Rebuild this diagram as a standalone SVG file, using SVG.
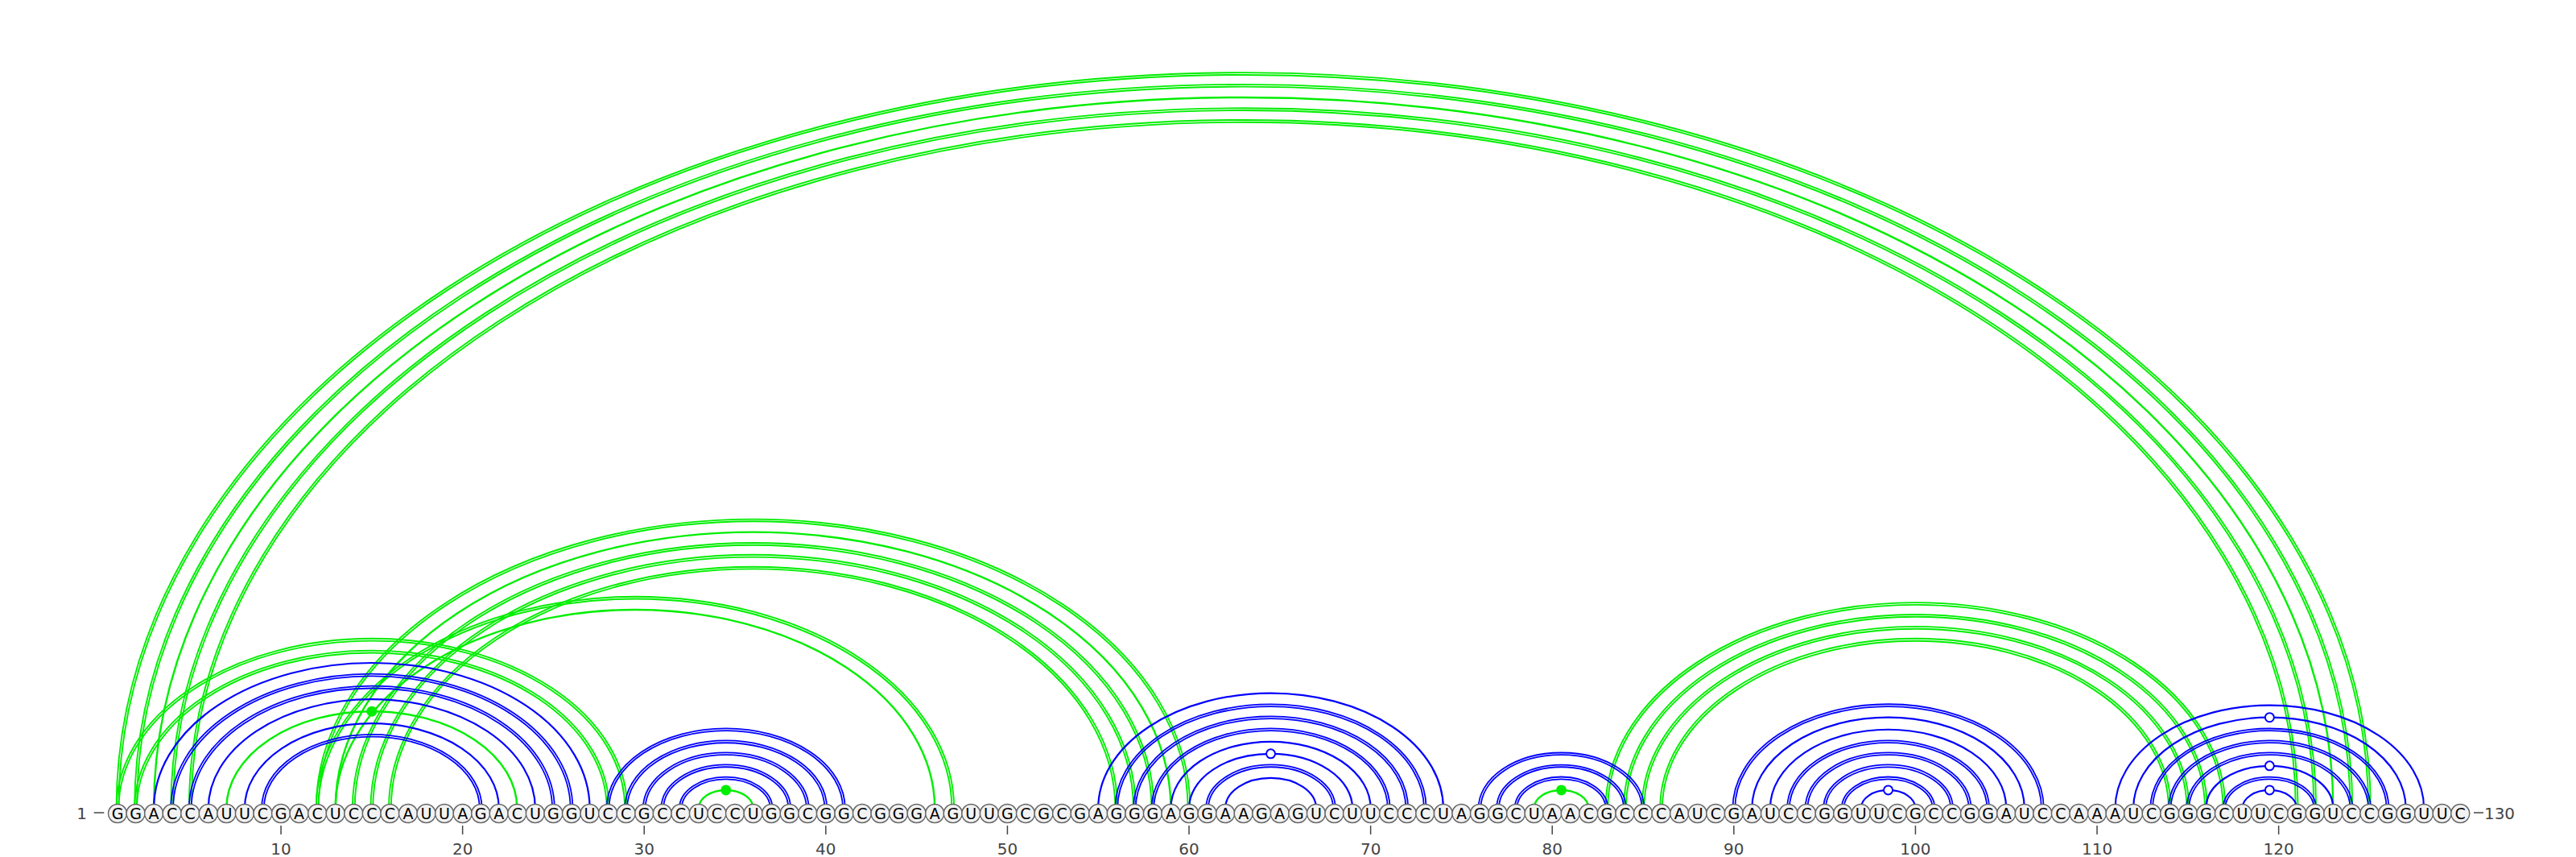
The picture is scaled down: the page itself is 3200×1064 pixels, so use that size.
<svg xmlns="http://www.w3.org/2000/svg" width="3200" height="1064" viewBox="0 0 3200 1064">
<style>
.b{fill:none;stroke:#0000ff;stroke-width:2.2}
.bd{fill:none;stroke:#0000ff;stroke-width:1.8}
.g{fill:none;stroke:#00ee00;stroke-width:2.4}
.gd{fill:none;stroke:#00ee00;stroke-width:1.9}
.oc{fill:#ffffff;stroke:#0000ff;stroke-width:2}
.fd{fill:#00ee00;stroke:none}
.nt circle{fill:#f2f2f2;stroke:#666666;stroke-width:1.5}
.nt text{font-family:"DejaVu Sans",sans-serif;font-size:19px;fill:#000;text-anchor:middle}
.lbl{font-family:"DejaVu Sans",sans-serif;font-size:20px;fill:#444;text-anchor:middle}
.tk{stroke:#444;stroke-width:1.5}
</style>
<rect width="3200" height="1064" fill="#ffffff"/>
<g id="connectors">
<path class="gd" d="M144.6 1003.5A1400.12 913.37 0 0 1 2944.84 1003.5M147.4 1003.5A1397.32 910.57 0 0 1 2942.04 1003.5"/>
<path class="gd" d="M167.16 1003.5A1377.56 898.66 0 0 1 2922.28 1003.5M169.96 1003.5A1374.76 895.86 0 0 1 2919.48 1003.5"/>
<path class="g" d="M191.12 1003.5A1353.6 882.55 0 0 1 2898.32 1003.5"/>
<path class="gd" d="M212.28 1003.5A1332.44 869.24 0 0 1 2877.16 1003.5M215.08 1003.5A1329.64 866.44 0 0 1 2874.36 1003.5"/>
<path class="gd" d="M234.84 1003.5A1309.88 854.53 0 0 1 2854.6 1003.5M237.64 1003.5A1307.08 851.73 0 0 1 2851.8 1003.5"/>
<path class="gd" d="M144.6 1003.5A317.24 210.7 0 0 1 779.08 1003.5M147.4 1003.5A314.44 207.9 0 0 1 776.28 1003.5"/>
<path class="gd" d="M167.16 1003.5A294.68 195.9 0 0 1 756.52 1003.5M169.96 1003.5A291.88 193.1 0 0 1 753.72 1003.5"/>
<path class="gd" d="M392.76 1003.5A542.84 359.1 0 0 1 1478.44 1003.5M395.56 1003.5A540.04 356.3 0 0 1 1475.64 1003.5"/>
<path class="g" d="M416.72 1003.5A518.88 342.9 0 0 1 1454.48 1003.5"/>
<path class="gd" d="M437.88 1003.5A497.72 329.5 0 0 1 1433.32 1003.5M440.68 1003.5A494.92 326.7 0 0 1 1430.52 1003.5"/>
<path class="gd" d="M460.44 1003.5A475.16 314.7 0 0 1 1410.76 1003.5M463.24 1003.5A472.36 311.9 0 0 1 1407.96 1003.5"/>
<path class="gd" d="M483 1003.5A452.6 299.9 0 0 1 1388.2 1003.5M485.8 1003.5A449.8 297.1 0 0 1 1385.4 1003.5"/>
<path class="gd" d="M392.76 1003.5A396.2 262.8 0 0 1 1185.16 1003.5M395.56 1003.5A393.4 260 0 0 1 1182.36 1003.5"/>
<path class="g" d="M416.72 1003.5A372.24 246.5 0 0 1 1161.2 1003.5"/>
<path class="gd" d="M1994.52 1003.5A384.92 255.4 0 0 1 2764.36 1003.5M1997.32 1003.5A382.12 252.6 0 0 1 2761.56 1003.5"/>
<path class="gd" d="M2017.08 1003.5A362.36 240.5 0 0 1 2741.8 1003.5M2019.88 1003.5A359.56 237.7 0 0 1 2739 1003.5"/>
<path class="gd" d="M2039.64 1003.5A339.8 225.6 0 0 1 2719.24 1003.5M2042.44 1003.5A337 222.8 0 0 1 2716.44 1003.5"/>
<path class="gd" d="M2062.2 1003.5A317.24 210.7 0 0 1 2696.68 1003.5M2065 1003.5A314.44 207.9 0 0 1 2693.88 1003.5"/>
<path class="b" d="M191.12 1003.5A270.72 180.48 0 0 1 732.56 1003.5"/>
<path class="bd" d="M212.28 1003.5A249.56 166.84 0 0 1 711.4 1003.5M215.08 1003.5A246.76 164.04 0 0 1 708.6 1003.5"/>
<path class="bd" d="M234.84 1003.5A227 151.8 0 0 1 688.84 1003.5M237.64 1003.5A224.2 149 0 0 1 686.04 1003.5"/>
<path class="b" d="M258.8 1003.5A203.04 135.36 0 0 1 664.88 1003.5"/>
<path class="g" d="M281.36 1003.5A180.48 120.32 0 0 1 642.32 1003.5"/>
<circle class="fd" cx="461.84" cy="883.18" r="6.5"/>
<path class="b" d="M303.92 1003.5A157.92 105.28 0 0 1 619.76 1003.5"/>
<path class="bd" d="M325.08 1003.5A136.76 91.64 0 0 1 598.6 1003.5M327.88 1003.5A133.96 88.84 0 0 1 595.8 1003.5"/>
<path class="bd" d="M753.72 1003.5A148.04 99.16 0 0 1 1049.8 1003.5M756.52 1003.5A145.24 96.36 0 0 1 1047 1003.5"/>
<path class="bd" d="M776.28 1003.5A125.48 84.12 0 0 1 1027.24 1003.5M779.08 1003.5A122.68 81.32 0 0 1 1024.44 1003.5"/>
<path class="bd" d="M798.84 1003.5A102.92 69.08 0 0 1 1004.68 1003.5M801.64 1003.5A100.12 66.28 0 0 1 1001.88 1003.5"/>
<path class="bd" d="M821.4 1003.5A80.36 54.04 0 0 1 982.12 1003.5M824.2 1003.5A77.56 51.24 0 0 1 979.32 1003.5"/>
<path class="bd" d="M843.96 1003.5A57.8 39 0 0 1 959.56 1003.5M846.76 1003.5A55 36.2 0 0 1 956.76 1003.5"/>
<path class="g" d="M867.92 1003.5A33.84 22.56 0 0 1 935.6 1003.5"/>
<circle class="fd" cx="901.76" cy="980.94" r="6.5"/>
<path class="b" d="M1364.24 1003.5A214.32 142.88 0 0 1 1792.88 1003.5"/>
<path class="bd" d="M1385.4 1003.5A193.16 129.24 0 0 1 1771.72 1003.5M1388.2 1003.5A190.36 126.44 0 0 1 1768.92 1003.5"/>
<path class="bd" d="M1407.96 1003.5A170.6 114.2 0 0 1 1749.16 1003.5M1410.76 1003.5A167.8 111.4 0 0 1 1746.36 1003.5"/>
<path class="bd" d="M1430.52 1003.5A148.04 99.16 0 0 1 1726.6 1003.5M1433.32 1003.5A145.24 96.36 0 0 1 1723.8 1003.5"/>
<path class="b" d="M1454.48 1003.5A124.08 82.72 0 0 1 1702.64 1003.5"/>
<path class="b" d="M1477.04 1003.5A101.52 67.68 0 0 1 1680.08 1003.5"/>
<circle class="oc" cx="1578.56" cy="935.82" r="5.5"/>
<path class="bd" d="M1498.2 1003.5A80.36 54.04 0 0 1 1658.92 1003.5M1501 1003.5A77.56 51.24 0 0 1 1656.12 1003.5"/>
<path class="b" d="M1522.16 1003.5A56.4 37.6 0 0 1 1634.96 1003.5"/>
<path class="bd" d="M1836.6 1003.5A102.92 69.08 0 0 1 2042.44 1003.5M1839.4 1003.5A100.12 66.28 0 0 1 2039.64 1003.5"/>
<path class="bd" d="M1859.16 1003.5A80.36 54.04 0 0 1 2019.88 1003.5M1861.96 1003.5A77.56 51.24 0 0 1 2017.08 1003.5"/>
<path class="bd" d="M1881.72 1003.5A57.8 39 0 0 1 1997.32 1003.5M1884.52 1003.5A55 36.2 0 0 1 1994.52 1003.5"/>
<path class="g" d="M1905.68 1003.5A33.84 22.56 0 0 1 1973.36 1003.5"/>
<circle class="fd" cx="1939.52" cy="980.94" r="6.5"/>
<path class="bd" d="M2152.44 1003.5A193.16 129.24 0 0 1 2538.76 1003.5M2155.24 1003.5A190.36 126.44 0 0 1 2535.96 1003.5"/>
<path class="b" d="M2176.4 1003.5A169.2 112.8 0 0 1 2514.8 1003.5"/>
<path class="b" d="M2198.96 1003.5A146.64 97.76 0 0 1 2492.24 1003.5"/>
<path class="bd" d="M2220.12 1003.5A125.48 84.12 0 0 1 2471.08 1003.5M2222.92 1003.5A122.68 81.32 0 0 1 2468.28 1003.5"/>
<path class="bd" d="M2242.68 1003.5A102.92 69.08 0 0 1 2448.52 1003.5M2245.48 1003.5A100.12 66.28 0 0 1 2445.72 1003.5"/>
<path class="bd" d="M2265.24 1003.5A80.36 54.04 0 0 1 2425.96 1003.5M2268.04 1003.5A77.56 51.24 0 0 1 2423.16 1003.5"/>
<path class="bd" d="M2287.8 1003.5A57.8 39 0 0 1 2403.4 1003.5M2290.6 1003.5A55 36.2 0 0 1 2400.6 1003.5"/>
<path class="b" d="M2311.76 1003.5A33.84 22.56 0 0 1 2379.44 1003.5"/>
<circle class="oc" cx="2345.6" cy="980.94" r="5.5"/>
<path class="b" d="M2627.6 1003.5A191.76 127.84 0 0 1 3011.12 1003.5"/>
<path class="b" d="M2650.16 1003.5A169.2 112.8 0 0 1 2988.56 1003.5"/>
<circle class="oc" cx="2819.36" cy="890.7" r="5.5"/>
<path class="bd" d="M2671.32 1003.5A148.04 99.16 0 0 1 2967.4 1003.5M2674.12 1003.5A145.24 96.36 0 0 1 2964.6 1003.5"/>
<path class="bd" d="M2693.88 1003.5A125.48 84.12 0 0 1 2944.84 1003.5M2696.68 1003.5A122.68 81.32 0 0 1 2942.04 1003.5"/>
<path class="bd" d="M2716.44 1003.5A102.92 69.08 0 0 1 2922.28 1003.5M2719.24 1003.5A100.12 66.28 0 0 1 2919.48 1003.5"/>
<path class="b" d="M2740.4 1003.5A78.96 52.64 0 0 1 2898.32 1003.5"/>
<circle class="oc" cx="2819.36" cy="950.86" r="5.5"/>
<path class="bd" d="M2761.56 1003.5A57.8 39 0 0 1 2877.16 1003.5M2764.36 1003.5A55 36.2 0 0 1 2874.36 1003.5"/>
<path class="b" d="M2785.52 1003.5A33.84 22.56 0 0 1 2853.2 1003.5"/>
<circle class="oc" cx="2819.36" cy="980.94" r="5.5"/>
</g>
<g id="nucleotides" class="nt">
<g id="n1"><circle cx="146" cy="1010" r="11.5"/><text x="146" y="1017">G</text></g>
<g id="n2"><circle cx="168.56" cy="1010" r="11.5"/><text x="168.56" y="1017">G</text></g>
<g id="n3"><circle cx="191.12" cy="1010" r="11.5"/><text x="191.12" y="1017">A</text></g>
<g id="n4"><circle cx="213.68" cy="1010" r="11.5"/><text x="213.68" y="1017">C</text></g>
<g id="n5"><circle cx="236.24" cy="1010" r="11.5"/><text x="236.24" y="1017">C</text></g>
<g id="n6"><circle cx="258.8" cy="1010" r="11.5"/><text x="258.8" y="1017">A</text></g>
<g id="n7"><circle cx="281.36" cy="1010" r="11.5"/><text x="281.36" y="1017">U</text></g>
<g id="n8"><circle cx="303.92" cy="1010" r="11.5"/><text x="303.92" y="1017">U</text></g>
<g id="n9"><circle cx="326.48" cy="1010" r="11.5"/><text x="326.48" y="1017">C</text></g>
<g id="n10"><circle cx="349.04" cy="1010" r="11.5"/><text x="349.04" y="1017">G</text></g>
<g id="n11"><circle cx="371.6" cy="1010" r="11.5"/><text x="371.6" y="1017">A</text></g>
<g id="n12"><circle cx="394.16" cy="1010" r="11.5"/><text x="394.16" y="1017">C</text></g>
<g id="n13"><circle cx="416.72" cy="1010" r="11.5"/><text x="416.72" y="1017">U</text></g>
<g id="n14"><circle cx="439.28" cy="1010" r="11.5"/><text x="439.28" y="1017">C</text></g>
<g id="n15"><circle cx="461.84" cy="1010" r="11.5"/><text x="461.84" y="1017">C</text></g>
<g id="n16"><circle cx="484.4" cy="1010" r="11.5"/><text x="484.4" y="1017">C</text></g>
<g id="n17"><circle cx="506.96" cy="1010" r="11.5"/><text x="506.96" y="1017">A</text></g>
<g id="n18"><circle cx="529.52" cy="1010" r="11.5"/><text x="529.52" y="1017">U</text></g>
<g id="n19"><circle cx="552.08" cy="1010" r="11.5"/><text x="552.08" y="1017">U</text></g>
<g id="n20"><circle cx="574.64" cy="1010" r="11.5"/><text x="574.64" y="1017">A</text></g>
<g id="n21"><circle cx="597.2" cy="1010" r="11.5"/><text x="597.2" y="1017">G</text></g>
<g id="n22"><circle cx="619.76" cy="1010" r="11.5"/><text x="619.76" y="1017">A</text></g>
<g id="n23"><circle cx="642.32" cy="1010" r="11.5"/><text x="642.32" y="1017">C</text></g>
<g id="n24"><circle cx="664.88" cy="1010" r="11.5"/><text x="664.88" y="1017">U</text></g>
<g id="n25"><circle cx="687.44" cy="1010" r="11.5"/><text x="687.44" y="1017">G</text></g>
<g id="n26"><circle cx="710" cy="1010" r="11.5"/><text x="710" y="1017">G</text></g>
<g id="n27"><circle cx="732.56" cy="1010" r="11.5"/><text x="732.56" y="1017">U</text></g>
<g id="n28"><circle cx="755.12" cy="1010" r="11.5"/><text x="755.12" y="1017">C</text></g>
<g id="n29"><circle cx="777.68" cy="1010" r="11.5"/><text x="777.68" y="1017">C</text></g>
<g id="n30"><circle cx="800.24" cy="1010" r="11.5"/><text x="800.24" y="1017">G</text></g>
<g id="n31"><circle cx="822.8" cy="1010" r="11.5"/><text x="822.8" y="1017">C</text></g>
<g id="n32"><circle cx="845.36" cy="1010" r="11.5"/><text x="845.36" y="1017">C</text></g>
<g id="n33"><circle cx="867.92" cy="1010" r="11.5"/><text x="867.92" y="1017">U</text></g>
<g id="n34"><circle cx="890.48" cy="1010" r="11.5"/><text x="890.48" y="1017">C</text></g>
<g id="n35"><circle cx="913.04" cy="1010" r="11.5"/><text x="913.04" y="1017">C</text></g>
<g id="n36"><circle cx="935.6" cy="1010" r="11.5"/><text x="935.6" y="1017">U</text></g>
<g id="n37"><circle cx="958.16" cy="1010" r="11.5"/><text x="958.16" y="1017">G</text></g>
<g id="n38"><circle cx="980.72" cy="1010" r="11.5"/><text x="980.72" y="1017">G</text></g>
<g id="n39"><circle cx="1003.28" cy="1010" r="11.5"/><text x="1003.28" y="1017">C</text></g>
<g id="n40"><circle cx="1025.84" cy="1010" r="11.5"/><text x="1025.84" y="1017">G</text></g>
<g id="n41"><circle cx="1048.4" cy="1010" r="11.5"/><text x="1048.4" y="1017">G</text></g>
<g id="n42"><circle cx="1070.96" cy="1010" r="11.5"/><text x="1070.96" y="1017">C</text></g>
<g id="n43"><circle cx="1093.52" cy="1010" r="11.5"/><text x="1093.52" y="1017">G</text></g>
<g id="n44"><circle cx="1116.08" cy="1010" r="11.5"/><text x="1116.08" y="1017">G</text></g>
<g id="n45"><circle cx="1138.64" cy="1010" r="11.5"/><text x="1138.64" y="1017">G</text></g>
<g id="n46"><circle cx="1161.2" cy="1010" r="11.5"/><text x="1161.2" y="1017">A</text></g>
<g id="n47"><circle cx="1183.76" cy="1010" r="11.5"/><text x="1183.76" y="1017">G</text></g>
<g id="n48"><circle cx="1206.32" cy="1010" r="11.5"/><text x="1206.32" y="1017">U</text></g>
<g id="n49"><circle cx="1228.88" cy="1010" r="11.5"/><text x="1228.88" y="1017">U</text></g>
<g id="n50"><circle cx="1251.44" cy="1010" r="11.5"/><text x="1251.44" y="1017">G</text></g>
<g id="n51"><circle cx="1274" cy="1010" r="11.5"/><text x="1274" y="1017">C</text></g>
<g id="n52"><circle cx="1296.56" cy="1010" r="11.5"/><text x="1296.56" y="1017">G</text></g>
<g id="n53"><circle cx="1319.12" cy="1010" r="11.5"/><text x="1319.12" y="1017">C</text></g>
<g id="n54"><circle cx="1341.68" cy="1010" r="11.5"/><text x="1341.68" y="1017">G</text></g>
<g id="n55"><circle cx="1364.24" cy="1010" r="11.5"/><text x="1364.24" y="1017">A</text></g>
<g id="n56"><circle cx="1386.8" cy="1010" r="11.5"/><text x="1386.8" y="1017">G</text></g>
<g id="n57"><circle cx="1409.36" cy="1010" r="11.5"/><text x="1409.36" y="1017">G</text></g>
<g id="n58"><circle cx="1431.92" cy="1010" r="11.5"/><text x="1431.92" y="1017">G</text></g>
<g id="n59"><circle cx="1454.48" cy="1010" r="11.5"/><text x="1454.48" y="1017">A</text></g>
<g id="n60"><circle cx="1477.04" cy="1010" r="11.5"/><text x="1477.04" y="1017">G</text></g>
<g id="n61"><circle cx="1499.6" cy="1010" r="11.5"/><text x="1499.6" y="1017">G</text></g>
<g id="n62"><circle cx="1522.16" cy="1010" r="11.5"/><text x="1522.16" y="1017">A</text></g>
<g id="n63"><circle cx="1544.72" cy="1010" r="11.5"/><text x="1544.72" y="1017">A</text></g>
<g id="n64"><circle cx="1567.28" cy="1010" r="11.5"/><text x="1567.28" y="1017">G</text></g>
<g id="n65"><circle cx="1589.84" cy="1010" r="11.5"/><text x="1589.84" y="1017">A</text></g>
<g id="n66"><circle cx="1612.4" cy="1010" r="11.5"/><text x="1612.4" y="1017">G</text></g>
<g id="n67"><circle cx="1634.96" cy="1010" r="11.5"/><text x="1634.96" y="1017">U</text></g>
<g id="n68"><circle cx="1657.52" cy="1010" r="11.5"/><text x="1657.52" y="1017">C</text></g>
<g id="n69"><circle cx="1680.08" cy="1010" r="11.5"/><text x="1680.08" y="1017">U</text></g>
<g id="n70"><circle cx="1702.64" cy="1010" r="11.5"/><text x="1702.64" y="1017">U</text></g>
<g id="n71"><circle cx="1725.2" cy="1010" r="11.5"/><text x="1725.2" y="1017">C</text></g>
<g id="n72"><circle cx="1747.76" cy="1010" r="11.5"/><text x="1747.76" y="1017">C</text></g>
<g id="n73"><circle cx="1770.32" cy="1010" r="11.5"/><text x="1770.32" y="1017">C</text></g>
<g id="n74"><circle cx="1792.88" cy="1010" r="11.5"/><text x="1792.88" y="1017">U</text></g>
<g id="n75"><circle cx="1815.44" cy="1010" r="11.5"/><text x="1815.44" y="1017">A</text></g>
<g id="n76"><circle cx="1838" cy="1010" r="11.5"/><text x="1838" y="1017">G</text></g>
<g id="n77"><circle cx="1860.56" cy="1010" r="11.5"/><text x="1860.56" y="1017">G</text></g>
<g id="n78"><circle cx="1883.12" cy="1010" r="11.5"/><text x="1883.12" y="1017">C</text></g>
<g id="n79"><circle cx="1905.68" cy="1010" r="11.5"/><text x="1905.68" y="1017">U</text></g>
<g id="n80"><circle cx="1928.24" cy="1010" r="11.5"/><text x="1928.24" y="1017">A</text></g>
<g id="n81"><circle cx="1950.8" cy="1010" r="11.5"/><text x="1950.8" y="1017">A</text></g>
<g id="n82"><circle cx="1973.36" cy="1010" r="11.5"/><text x="1973.36" y="1017">C</text></g>
<g id="n83"><circle cx="1995.92" cy="1010" r="11.5"/><text x="1995.92" y="1017">G</text></g>
<g id="n84"><circle cx="2018.48" cy="1010" r="11.5"/><text x="2018.48" y="1017">C</text></g>
<g id="n85"><circle cx="2041.04" cy="1010" r="11.5"/><text x="2041.04" y="1017">C</text></g>
<g id="n86"><circle cx="2063.6" cy="1010" r="11.5"/><text x="2063.6" y="1017">C</text></g>
<g id="n87"><circle cx="2086.16" cy="1010" r="11.5"/><text x="2086.16" y="1017">A</text></g>
<g id="n88"><circle cx="2108.72" cy="1010" r="11.5"/><text x="2108.72" y="1017">U</text></g>
<g id="n89"><circle cx="2131.28" cy="1010" r="11.5"/><text x="2131.28" y="1017">C</text></g>
<g id="n90"><circle cx="2153.84" cy="1010" r="11.5"/><text x="2153.84" y="1017">G</text></g>
<g id="n91"><circle cx="2176.4" cy="1010" r="11.5"/><text x="2176.4" y="1017">A</text></g>
<g id="n92"><circle cx="2198.96" cy="1010" r="11.5"/><text x="2198.96" y="1017">U</text></g>
<g id="n93"><circle cx="2221.52" cy="1010" r="11.5"/><text x="2221.52" y="1017">C</text></g>
<g id="n94"><circle cx="2244.08" cy="1010" r="11.5"/><text x="2244.08" y="1017">C</text></g>
<g id="n95"><circle cx="2266.64" cy="1010" r="11.5"/><text x="2266.64" y="1017">G</text></g>
<g id="n96"><circle cx="2289.2" cy="1010" r="11.5"/><text x="2289.2" y="1017">G</text></g>
<g id="n97"><circle cx="2311.76" cy="1010" r="11.5"/><text x="2311.76" y="1017">U</text></g>
<g id="n98"><circle cx="2334.32" cy="1010" r="11.5"/><text x="2334.32" y="1017">U</text></g>
<g id="n99"><circle cx="2356.88" cy="1010" r="11.5"/><text x="2356.88" y="1017">C</text></g>
<g id="n100"><circle cx="2379.44" cy="1010" r="11.5"/><text x="2379.44" y="1017">G</text></g>
<g id="n101"><circle cx="2402" cy="1010" r="11.5"/><text x="2402" y="1017">C</text></g>
<g id="n102"><circle cx="2424.56" cy="1010" r="11.5"/><text x="2424.56" y="1017">C</text></g>
<g id="n103"><circle cx="2447.12" cy="1010" r="11.5"/><text x="2447.12" y="1017">G</text></g>
<g id="n104"><circle cx="2469.68" cy="1010" r="11.5"/><text x="2469.68" y="1017">G</text></g>
<g id="n105"><circle cx="2492.24" cy="1010" r="11.5"/><text x="2492.24" y="1017">A</text></g>
<g id="n106"><circle cx="2514.8" cy="1010" r="11.5"/><text x="2514.8" y="1017">U</text></g>
<g id="n107"><circle cx="2537.36" cy="1010" r="11.5"/><text x="2537.36" y="1017">C</text></g>
<g id="n108"><circle cx="2559.92" cy="1010" r="11.5"/><text x="2559.92" y="1017">C</text></g>
<g id="n109"><circle cx="2582.48" cy="1010" r="11.5"/><text x="2582.48" y="1017">A</text></g>
<g id="n110"><circle cx="2605.04" cy="1010" r="11.5"/><text x="2605.04" y="1017">A</text></g>
<g id="n111"><circle cx="2627.6" cy="1010" r="11.5"/><text x="2627.6" y="1017">A</text></g>
<g id="n112"><circle cx="2650.16" cy="1010" r="11.5"/><text x="2650.16" y="1017">U</text></g>
<g id="n113"><circle cx="2672.72" cy="1010" r="11.5"/><text x="2672.72" y="1017">C</text></g>
<g id="n114"><circle cx="2695.28" cy="1010" r="11.5"/><text x="2695.28" y="1017">G</text></g>
<g id="n115"><circle cx="2717.84" cy="1010" r="11.5"/><text x="2717.84" y="1017">G</text></g>
<g id="n116"><circle cx="2740.4" cy="1010" r="11.5"/><text x="2740.4" y="1017">G</text></g>
<g id="n117"><circle cx="2762.96" cy="1010" r="11.5"/><text x="2762.96" y="1017">C</text></g>
<g id="n118"><circle cx="2785.52" cy="1010" r="11.5"/><text x="2785.52" y="1017">U</text></g>
<g id="n119"><circle cx="2808.08" cy="1010" r="11.5"/><text x="2808.08" y="1017">U</text></g>
<g id="n120"><circle cx="2830.64" cy="1010" r="11.5"/><text x="2830.64" y="1017">C</text></g>
<g id="n121"><circle cx="2853.2" cy="1010" r="11.5"/><text x="2853.2" y="1017">G</text></g>
<g id="n122"><circle cx="2875.76" cy="1010" r="11.5"/><text x="2875.76" y="1017">G</text></g>
<g id="n123"><circle cx="2898.32" cy="1010" r="11.5"/><text x="2898.32" y="1017">U</text></g>
<g id="n124"><circle cx="2920.88" cy="1010" r="11.5"/><text x="2920.88" y="1017">C</text></g>
<g id="n125"><circle cx="2943.44" cy="1010" r="11.5"/><text x="2943.44" y="1017">C</text></g>
<g id="n126"><circle cx="2966" cy="1010" r="11.5"/><text x="2966" y="1017">G</text></g>
<g id="n127"><circle cx="2988.56" cy="1010" r="11.5"/><text x="2988.56" y="1017">G</text></g>
<g id="n128"><circle cx="3011.12" cy="1010" r="11.5"/><text x="3011.12" y="1017">U</text></g>
<g id="n129"><circle cx="3033.68" cy="1010" r="11.5"/><text x="3033.68" y="1017">U</text></g>
<g id="n130"><circle cx="3056.24" cy="1010" r="11.5"/><text x="3056.24" y="1017">C</text></g>
</g>
<g id="axis">
<text class="lbl" x="101.7" y="1017">1</text>
<line class="tk" x1="116.7" y1="1009" x2="129.3" y2="1009"/>
<line class="tk" x1="3073" y1="1009" x2="3085" y2="1009"/>
<text class="lbl" x="3105" y="1017">130</text>
<line class="tk" x1="349.04" y1="1025" x2="349.04" y2="1036"/><text class="lbl" x="349.04" y="1061">10</text>
<line class="tk" x1="574.64" y1="1025" x2="574.64" y2="1036"/><text class="lbl" x="574.64" y="1061">20</text>
<line class="tk" x1="800.24" y1="1025" x2="800.24" y2="1036"/><text class="lbl" x="800.24" y="1061">30</text>
<line class="tk" x1="1025.84" y1="1025" x2="1025.84" y2="1036"/><text class="lbl" x="1025.84" y="1061">40</text>
<line class="tk" x1="1251.44" y1="1025" x2="1251.44" y2="1036"/><text class="lbl" x="1251.44" y="1061">50</text>
<line class="tk" x1="1477.04" y1="1025" x2="1477.04" y2="1036"/><text class="lbl" x="1477.04" y="1061">60</text>
<line class="tk" x1="1702.64" y1="1025" x2="1702.64" y2="1036"/><text class="lbl" x="1702.64" y="1061">70</text>
<line class="tk" x1="1928.24" y1="1025" x2="1928.24" y2="1036"/><text class="lbl" x="1928.24" y="1061">80</text>
<line class="tk" x1="2153.84" y1="1025" x2="2153.84" y2="1036"/><text class="lbl" x="2153.84" y="1061">90</text>
<line class="tk" x1="2379.44" y1="1025" x2="2379.44" y2="1036"/><text class="lbl" x="2379.44" y="1061">100</text>
<line class="tk" x1="2605.04" y1="1025" x2="2605.04" y2="1036"/><text class="lbl" x="2605.04" y="1061">110</text>
<line class="tk" x1="2830.64" y1="1025" x2="2830.64" y2="1036"/><text class="lbl" x="2830.64" y="1061">120</text>
</g>
</svg>
